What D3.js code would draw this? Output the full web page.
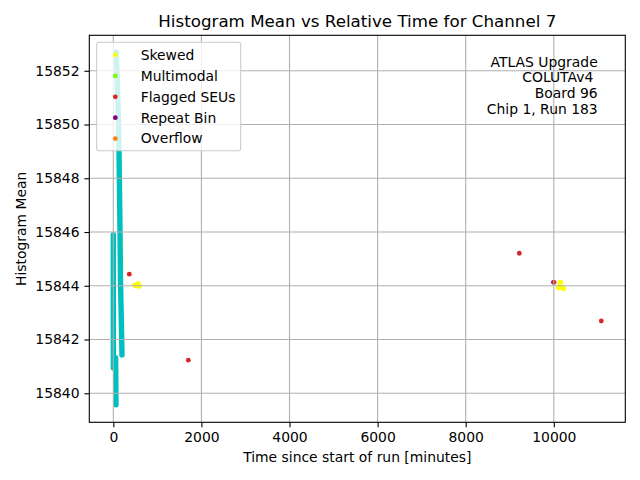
<!DOCTYPE html>
<html>
<head>
<meta charset="utf-8">
<script src="https://cdn.jsdelivr.net/npm/d3@7"></script>
<style>
  body { margin: 0; background: #fff; }
  text { font-family: "DejaVu Sans", sans-serif; white-space: pre; }
</style>
</head>
<body>
<svg id="chart" width="640" height="480"></svg>
<script>
// values
var goodRuns = [
  [[68, 15852.70], [110, 15850.6], [129, 15849.05], [152, 15846.08], [163, 15844.22], [186, 15842.36], [197, 15841.43]],
  [[0, 15845.9], [0, 15843.47], [2, 15840.94]],
  [[52, 15841.32], [61, 15839.57]]
];
var skewed = [[493, 15844.02], [561, 15844.06], [583, 15843.99], [10148, 15844.12], [10111, 15843.94], [10216, 15843.91]];
var multimodal = [];
var repeatBin = [[9992, 15844.13]];
var flagged = [[363, 15844.43], [1703, 15841.23], [9217, 15845.21], [10005, 15844.13], [11078, 15842.69]];
var overflow = [];

var xTicks = [0, 2000, 4000, 6000, 8000, 10000];
var yTicks = [15840, 15842, 15844, 15846, 15848, 15850, 15852];
var legendLabels = ["Skewed", "Multimodal", "Flagged SEUs", "Repeat Bin", "Overflow"];
var legendColors = ["#ffff00", "#7cfc00", "#d62728", "#800080", "#ff7f0e"];
var infoLines = ["ATLAS Upgrade", "COLUTAv4 ", "Board 96", "Chip 1, Run 183"];

var mLeft = 89.3, mTop = 35.3, width = 536, height = 387;
var fs = "13.9px";
var svg = d3.select("#chart");

var x = d3.scaleLinear().domain([-545, 11623]).range([mLeft, mLeft + width]);
var y = d3.scaleLinear().domain([15838.92, 15853.32]).range([mTop + height, mTop]);

// dense "good" points, drawn as thick round strokes
var line = d3.line().x(function(d) { return x(d[0]); }).y(function(d) { return y(d[1]); });
svg.append("g").selectAll("path")
    .data(goodRuns)
  .enter().append("path")
    .attr("d", line)
    .attr("fill", "none")
    .attr("stroke", "#00bfbf")
    .attr("stroke-width", 5.4)
    .attr("stroke-linecap", "round")
    .attr("stroke-linejoin", "round");

function dots(data, color, r) {
  svg.append("g").selectAll("circle")
      .data(data)
    .enter().append("circle")
      .attr("cx", function(d) { return x(d[0]); })
      .attr("cy", function(d) { return y(d[1]); })
      .attr("r", r)
      .attr("fill", color);
}
dots(skewed, legendColors[0], 2.8);
dots(multimodal, legendColors[1], 2.4);
dots(repeatBin, legendColors[3], 2.4);
dots(flagged, legendColors[2], 2.4);
dots(overflow, legendColors[4], 2.4);

// grid sits above the scatter, like matplotlib
var grid = svg.append("g").attr("stroke", "#b0b0b0").attr("stroke-width", 1.1);
grid.selectAll("line.gx").data(xTicks).enter().append("line")
    .attr("x1", function(d) { return x(d); }).attr("x2", function(d) { return x(d); })
    .attr("y1", mTop).attr("y2", mTop + height);
grid.selectAll("line.gy").data(yTicks).enter().append("line")
    .attr("y1", function(d) { return y(d); }).attr("y2", function(d) { return y(d); })
    .attr("x1", mLeft).attr("x2", mLeft + width);

// axes
var xAxis = svg.append("g")
    .attr("transform", "translate(0," + (mTop + height) + ")")
    .call(d3.axisBottom(x).tickValues(xTicks).tickSize(4.9).tickPadding(4.9).tickFormat(d3.format("d")));
var yAxis = svg.append("g")
    .attr("transform", "translate(" + mLeft + ",0)")
    .call(d3.axisLeft(y).tickValues(yTicks).tickSize(4.9).tickPadding(4.9).tickFormat(d3.format("d")));
[xAxis, yAxis].forEach(function(a) {
  a.select(".domain").remove();
  a.selectAll("line").attr("stroke", "#000").attr("stroke-width", 1.1);
  a.selectAll("text").attr("font-size", fs).attr("fill", "#000")
    .style("font-family", "DejaVu Sans, sans-serif");
});

svg.append("rect")
    .attr("x", mLeft).attr("y", mTop).attr("width", width).attr("height", height)
    .attr("fill", "none").attr("stroke", "#000").attr("stroke-width", 1.1);

// legend
var lg = svg.append("g");
lg.append("rect")
    .attr("x", 96.7).attr("y", 42.3).attr("width", 144).attr("height", 108.4)
    .attr("rx", 2.5)
    .attr("fill", "#fff").attr("fill-opacity", 0.8)
    .attr("stroke", "#cccccc").attr("stroke-width", 1.1);
var rows = lg.selectAll("g.row").data(legendLabels).enter().append("g")
    .attr("transform", function(d, i) { return "translate(0," + (55 + i * 20.9) + ")"; });
rows.append("circle").attr("cx", 115.3).attr("cy", 0).attr("r", 2.4)
    .attr("fill", function(d, i) { return legendColors[i]; });
rows.append("text").attr("x", 140.7).attr("y", 0).attr("dy", "0.35em")
    .attr("font-size", fs).text(function(d) { return d; });

// info box
svg.append("g").selectAll("text").data(infoLines).enter().append("text")
    .attr("x", 597.7)
    .attr("y", function(d, i) { return 61.7 + i * 15.8; })
    .attr("dy", "0.35em")
    .attr("text-anchor", "end")
    .attr("font-size", fs)
    .text(function(d) { return d; });

// titles
svg.append("text").attr("x", mLeft + width / 2).attr("y", 27)
    .attr("text-anchor", "middle").attr("font-size", "16.7px")
    .text("Histogram Mean vs Relative Time for Channel 7");
svg.append("text").attr("x", mLeft + width / 2).attr("y", 462)
    .attr("text-anchor", "middle").attr("font-size", fs)
    .text("Time since start of run [minutes]");
svg.append("text")
    .attr("transform", "translate(26," + (mTop + height / 2) + ") rotate(-90)")
    .attr("text-anchor", "middle").attr("font-size", fs)
    .text("Histogram Mean");
</script>
</body>
</html>
